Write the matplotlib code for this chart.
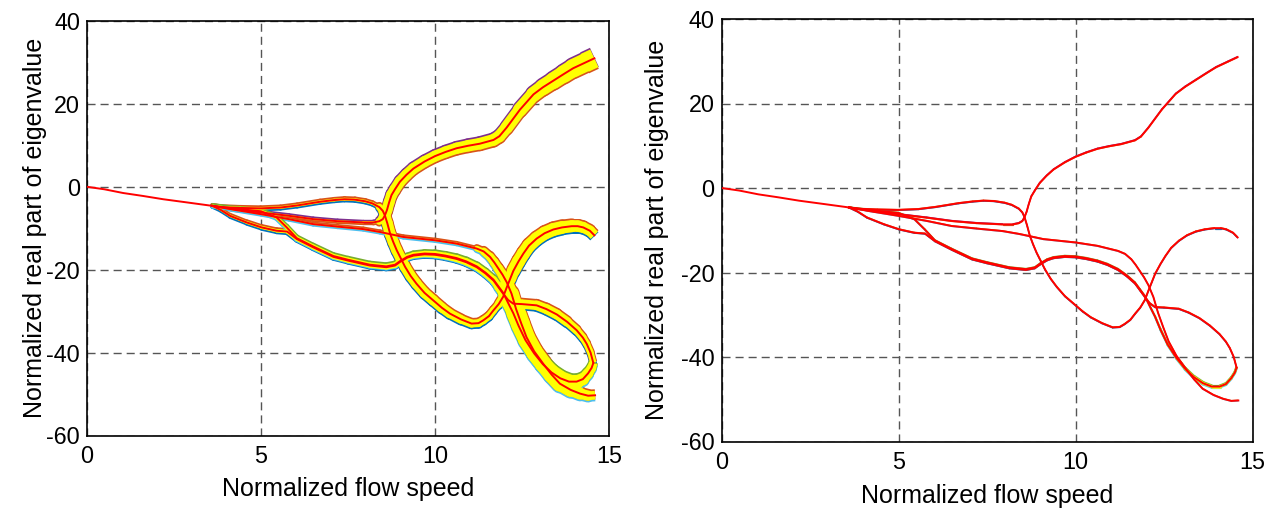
import numpy as np
import matplotlib
matplotlib.use("Agg")
import matplotlib.pyplot as plt
from matplotlib.collections import LineCollection
from matplotlib.transforms import offset_copy

plt.rcParams['font.family'] = ['Liberation Sans', 'DejaVu Sans']
plt.rcParams['axes.unicode_minus'] = False

# ---------------- data ----------------
x_ticks = [0, 5, 10, 15]
y_ticks = [-60, -40, -20, 0, 20, 40]
x_label = "Normalized flow speed"
y_label = "Normalized real part of eigenvalue"

# common trunk of all eigenvalue branches
trunk_x = [0.0, 0.5, 1.04, 1.6, 2.19, 2.9, 3.6]
trunk_y = [0.0, -0.6, -1.5, -2.2, -3.0, -3.8, -4.6]

# branch 1: lower straight line, then unstable (positive) branch
b1_x = [3.6, 4.2, 5.0, 5.8, 6.5, 7.2, 7.94, 8.23, 8.4, 8.5, 8.56, 8.62, 8.68, 8.75,
        8.85, 8.99, 9.18, 9.38, 9.7, 10.0, 10.3, 10.62, 10.95, 11.29, 11.68, 11.85,
        12.06, 12.44, 12.83, 13.1, 13.4, 13.7, 13.97, 14.3, 14.58]
b1_y = [-4.6, -5.4, -6.2, -7.0, -7.8, -8.3, -8.6, -8.6, -8.3, -7.8, -6.9, -5.6, -3.8, -2.0,
        -0.6, 1.2, 2.9, 4.4, 6.1, 7.4, 8.4, 9.3, 9.9, 10.4, 11.3, 12.2,
        14.3, 18.6, 22.3, 24.0, 25.6, 27.2, 28.6, 29.9, 31.0]

# branch 2: upper small loop, steep drop, loop to -33, arc back to -10
b2_x = [3.6, 3.82, 4.4, 4.99, 5.56, 6.04, 6.7, 7.1, 7.4, 7.7, 8.0, 8.2, 8.4, 8.5, 8.56,
        8.63, 8.71, 8.8, 8.9, 9.02, 9.14, 9.3, 9.47, 9.7, 9.95, 10.2, 10.43, 10.75,
        11.05, 11.25, 11.39, 11.55, 11.68, 11.83, 11.96, 12.06, 12.16, 12.25, 12.4,
        12.54, 12.7, 12.92, 13.15, 13.4, 13.65, 13.93, 14.1, 14.26, 14.45, 14.58]
b2_y = [-4.6, -4.9, -5.1, -5.2, -5.0, -4.5, -3.6, -3.2, -3.0, -3.1, -3.5, -4.0, -4.9, -5.8, -6.9,
        -8.8, -11.3, -13.3, -15.3, -17.3, -19.3, -21.5, -23.4, -25.6, -27.4, -29.2, -30.6, -32.0,
        -33.0, -32.9, -32.2, -31.2, -29.8, -28.3, -26.5, -24.3, -22.2, -20.3, -18.0,
        -16.1, -14.2, -12.5, -11.2, -10.3, -9.8, -9.5, -9.5, -9.8, -10.6, -11.7]

# branch 3: middle straight line, then steep drop to -50
b3_x = [3.6, 4.2, 5.0, 5.8, 6.5, 7.2, 7.94, 8.42, 9.09, 10.0, 10.62, 11.2, 11.4, 11.58,
        11.7, 11.82, 11.94, 12.06, 12.2, 12.33, 12.48, 12.63, 12.85, 13.11, 13.35, 13.59,
        13.9, 14.17, 14.4, 14.6]
b3_y = [-4.6, -5.5, -6.6, -7.8, -9.0, -9.6, -10.2, -10.9, -12.1, -12.9, -13.7, -14.9, -15.6, -16.9,
        -18.2, -19.7, -21.2, -23.0, -25.8, -29.5, -33.0, -36.3, -39.7, -42.7, -45.3, -47.5,
        -49.0, -49.9, -50.4, -50.3]

# branch 4: lower loop, then upper arc of the right-hand loop
b4_x = [3.6, 3.85, 4.11, 4.59, 5.02, 5.45, 5.75, 6.03, 6.5, 7.08, 7.5, 8.13, 8.6, 8.85,
        9.0, 9.2, 9.38, 9.7, 10.0, 10.3, 10.62, 10.9, 11.2, 11.45, 11.68, 11.82, 11.96,
        12.1, 12.25, 12.5, 12.92, 13.2, 13.5, 13.8, 14.07, 14.25, 14.36, 14.47, 14.55]
b4_y = [-4.6, -5.6, -7.0, -8.6, -9.8, -10.6, -10.8, -12.6, -14.6, -16.9, -17.8, -19.0, -19.4, -19.0,
        -18.1, -17.1, -16.6, -16.3, -16.4, -16.8, -17.4, -18.2, -19.4, -20.9, -22.6, -24.2, -25.8,
        -27.3, -28.2, -28.3, -28.6, -29.5, -30.8, -32.6, -34.6, -36.4, -37.9, -40.0, -42.5]

# branch 5: joins the lower loop, then lower arc of the right-hand loop
b5_x = [3.6, 4.3, 5.0, 5.45, 5.74, 6.03, 6.5, 7.08, 7.5, 8.13, 8.6, 8.85, 9.0, 9.2, 9.38,
        9.7, 10.0, 10.3, 10.62, 10.9, 11.2, 11.45, 11.68, 11.82, 11.96, 12.1, 12.25, 12.4,
        12.6, 12.85, 13.1, 13.35, 13.6, 13.85, 14.07, 14.25, 14.4, 14.5, 14.55]
b5_y = [-4.6, -5.3, -5.9, -7.4, -9.8, -12.4, -14.4, -16.7, -17.6, -18.8, -19.2, -18.8, -17.9,
        -16.9, -16.4, -16.1, -16.2, -16.6, -17.2, -18.0, -19.2, -20.7, -22.4, -24.0, -25.6,
        -28.0, -30.5, -33.5, -37.0, -40.2, -42.8, -44.8, -46.2, -47.0, -47.0, -46.4, -45.0,
        -43.7, -42.5]

branch_x = [b1_x, b2_x, b3_x, b4_x, b5_x]
branch_y = [b1_y, b2_y, b3_y, b4_y, b5_y]

# width (pixels) of the uncertainty band along each branch: (x, width) pairs
band_left = [
    ([3.6, 8.3, 8.55, 10.0, 12.0, 13.0, 14.6], [2, 2, 11, 11, 12, 15, 20]),
    ([3.6, 8.3, 8.6, 10.0, 11.0, 11.8, 12.3, 13.5, 14.6], [2.5, 3, 11, 10, 8, 7, 13, 13, 10]),
    ([3.6, 11.0, 11.5, 12.0, 12.4, 13.5, 14.6], [1.5, 2, 8, 10, 17, 16, 8]),
    ([3.6, 6.0, 9.0, 11.7, 12.3, 13.5, 14.6], [2, 4, 5, 7, 9, 10, 6]),
    ([3.6, 6.0, 9.0, 11.7, 12.3, 13.3, 14.0, 14.6], [2, 4, 5, 7, 14, 16, 14, 8]),
]
band_right = [
    ([0, 15], [0.6, 0.6]),
    ([0, 15], [0.6, 0.6]),
    ([0, 15], [0.4, 0.4]),
    ([0, 15], [0.6, 0.6]),
    ([0, 12, 13.5, 14.6], [0.6, 1.0, 3.0, 2.0]),
]

top_colors = ['#7E2F8E', '#D95319', '#D95319', '#D95319', '#77AC30']
bottom_colors = ['#D95319', '#0072BD', '#4DBEEE', '#0072BD', '#4DBEEE']

# ---------------- figure ----------------
fig = plt.figure(figsize=(12.83, 5.08), dpi=100)
ax_l = fig.add_axes([87 / 1283, (508 - 435.5) / 508, 522 / 1283, 414.5 / 508])
ax_r = fig.add_axes([721.5 / 1283, (508 - 441.5) / 508, 531 / 1283, 422.5 / 508])


def add_band(ax, segs, w, color, transform, z):
    # interior segments with round caps, final segment with a flat end
    ax.add_collection(LineCollection(segs[:-1], linewidths=w[:-1], colors=color,
                                     transform=transform, capstyle='round',
                                     joinstyle='round', zorder=z))
    ax.add_collection(LineCollection(segs[-1:], linewidths=w[-1:], colors=color,
                                     transform=transform, capstyle='butt', zorder=z))


def draw(ax, bands, edge_extra, edge_off):
    px2pt = 72.0 / fig.dpi
    up = offset_copy(ax.transData, fig=fig, x=0, y=edge_off, units='dots')
    down = offset_copy(ax.transData, fig=fig, x=0, y=-edge_off, units='dots')
    segs_all, w_all = [], []
    for bx, by, (px_, pw_) in zip(branch_x, branch_y, bands):
        pts = np.column_stack([bx, by])
        segs = np.stack([pts[:-1], pts[1:]], axis=1)
        mid = 0.5 * (np.asarray(bx[:-1]) + np.asarray(bx[1:]))
        w = np.interp(mid, px_, pw_)
        segs_all.append(segs)
        w_all.append(w)
    for segs, w, tc, bc in zip(segs_all, w_all, top_colors, bottom_colors):
        add_band(ax, segs, (w + edge_extra) * px2pt, bc, down, 2)
        add_band(ax, segs, (w + edge_extra) * px2pt, tc, up, 2)
    for segs, w in zip(segs_all, w_all):
        add_band(ax, segs, w * px2pt, '#FFFF00', ax.transData, 3)
    ax.plot(trunk_x, trunk_y, color='#FF0000', lw=1.4, zorder=4, solid_joinstyle='round')
    for bx, by in zip(branch_x, branch_y):
        ax.plot(bx, by, color='#FF0000', lw=1.4, zorder=4, solid_joinstyle='round')

    ax.set_xlim(0, 15)
    ax.set_ylim(-60, 40)
    ax.set_xticks(x_ticks)
    ax.set_yticks(y_ticks)
    ax.tick_params(length=0, labelsize=16.8, pad=5, colors='black')
    ax.tick_params(axis='x', pad=7)
    ax.grid(True, linestyle=(0, (5.8, 3.6)), color='#555555', lw=1.0, zorder=1)
    ax.set_axisbelow(True)
    for s in ax.spines.values():
        s.set_linewidth(1.2)
        s.set_color('black')
    ax.set_xlabel(x_label, fontsize=18)
    ax.set_ylabel(y_label, fontsize=18)


draw(ax_l, band_left, 1.4, 1.0)
draw(ax_r, band_right, 0.6, 0.5)

ax_l.yaxis.set_label_coords((47 - 87) / 522, 0.5)
ax_r.yaxis.set_label_coords((669 - 721.5) / 531, 0.5)
ax_l.xaxis.set_label_coords(0.5, (435.5 - 477) / 414.5)
ax_r.xaxis.set_label_coords(0.5, (441.5 - 484) / 422.5)

fig.savefig("out.png", dpi=100)
